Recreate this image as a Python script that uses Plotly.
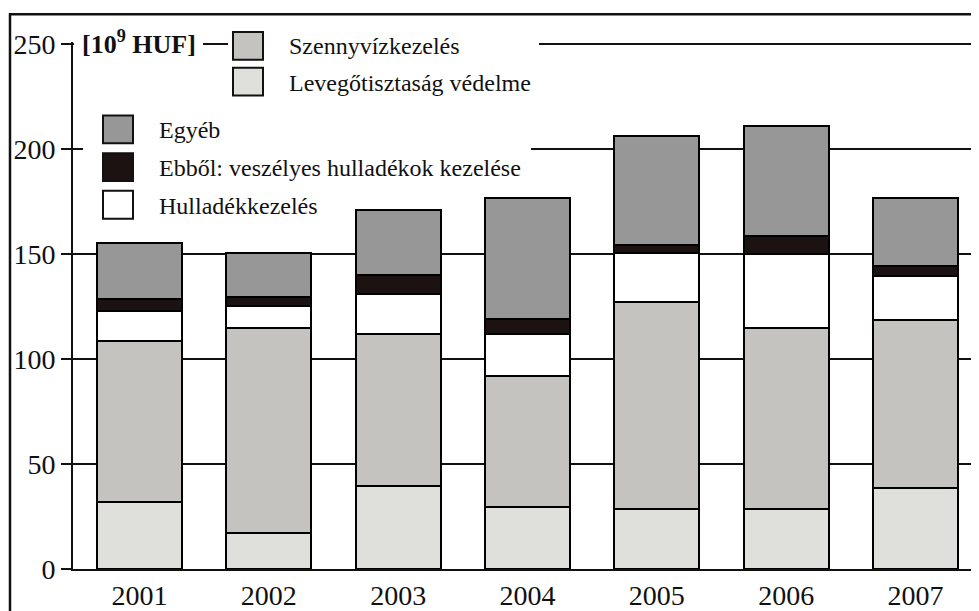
import plotly.graph_objects as go

years = ["2001", "2002", "2003", "2004", "2005", "2006", "2007"]
levego = [32.0, 17.3, 39.7, 29.6, 28.4, 28.4, 38.5]
szennyviz = [76.5, 97.5, 72.0, 62.5, 98.6, 86.3, 80.3]
hulladek = [14.6, 10.7, 19.2, 19.9, 23.3, 35.1, 20.8]
veszelyes = [5.5, 4.2, 9.0, 7.1, 3.8, 8.7, 4.7]
egyeb = [26.9, 20.8, 31.0, 57.6, 52.0, 52.5, 32.4]
y_ticks = [0, 50, 100, 150, 200, 250]

names = ["Levegőtisztaság védelme", "Szennyvízkezelés", "Hulladékkezelés",
         "Ebből: veszélyes hulladékok kezelése", "Egyéb"]
colors = ["#dfdfdc", "#c5c3c0", "#ffffff", "#1c1212", "#979797"]
series = [levego, szennyviz, hulladek, veszelyes, egyeb]

# page body has an 8px margin: figure is sized so it fits the window
OFF = 8
FW, FH = 979 - OFF, 611 - OFF
AX_L, AX_B, AX_T = 73, 573, 42          # reference-pixel positions of plot edges
ML, MT, MB, MR = AX_L - OFF, AX_T - OFF, 611 - AX_B, 0
PW, PH = FW - ML - MR, FH - MT - MB
XR = [-0.514, 6.491]
YR = [0, 251]
FONT = "Liberation Serif, Times New Roman, serif"

def px(x):
    return (x - AX_L) / PW

def py(y):
    return (AX_B - y) / PH

def dx(x):
    return XR[0] + px(x) * (XR[1] - XR[0])

def dy(y):
    return YR[0] + py(y) * (YR[1] - YR[0])

xs = list(range(len(years)))
fig = go.Figure()
for name, col, vals in zip(names, colors, series):
    fig.add_trace(go.Bar(x=xs, y=vals, name=name, width=0.657,
                         marker=dict(color=col, line=dict(color="black", width=2)),
                         showlegend=False))

shapes = []
# white areas hiding gridlines behind legend (between grid and bars)
for (x0, x1, y0, y1) in [(74, 203, 25, 62), (228, 539, 25, 108), (83, 531, 108, 228)]:
    shapes.append(dict(type="rect", xref="x", yref="y", x0=dx(x0), x1=dx(x1),
                       y0=dy(y1), y1=dy(y0), line=dict(width=0), fillcolor="white",
                       layer="between"))
# outer frame
shapes.append(dict(type="rect", xref="paper", yref="paper", x0=px(10), x1=px(1000),
                   y0=py(640), y1=py(14), line=dict(color="#111", width=2.5),
                   fillcolor="rgba(0,0,0,0)", layer="above"))

legend_items = [
    (names[1], colors[1], 233, 32, 46),
    (names[0], colors[0], 233, 68, 83),
    (names[4], colors[4], 103, 116, 131),
    (names[3], colors[3], 103, 154, 169),
    (names[2], colors[2], 103, 192, 207),
]
annotations = []
for name, col, sx, sy, ty in legend_items:
    shapes.append(dict(type="rect", xref="paper", yref="paper", x0=px(sx), x1=px(sx + 30),
                       y0=py(sy + 28), y1=py(sy), fillcolor=col,
                       line=dict(color="#111", width=2), layer="above"))
    annotations.append(dict(x=px(sx + 54), y=py(ty), xref="paper", yref="paper",
                            text=name, showarrow=False, xanchor="left", yanchor="middle",
                            font=dict(family=FONT, size=24, color="#111")))

annotations.append(dict(x=px(80), y=py(42), xref="paper", yref="paper",
                        text="<b>[10<sup>9</sup> HUF]</b>", showarrow=False,
                        xanchor="left", yanchor="middle",
                        font=dict(family=FONT, size=26, color="#111")))

fig.update_layout(
    width=FW, height=FH, barmode="stack",
    margin=dict(l=ML, r=MR, t=MT, b=MB, pad=0),
    paper_bgcolor="white", plot_bgcolor="white",
    font=dict(family=FONT, size=28, color="#111"),
    shapes=shapes, annotations=annotations,
    xaxis=dict(range=XR, tickvals=xs, ticktext=years, showgrid=False,
               zeroline=False, showline=True, linecolor="#111", linewidth=2,
               ticks="", tickfont=dict(size=28, family=FONT), fixedrange=True),
    yaxis=dict(range=YR, tickvals=y_ticks, showgrid=True, gridcolor="#111",
               gridwidth=2, zeroline=False, showline=True, linecolor="#111", linewidth=2,
               ticks="outside", ticklen=10, tickwidth=2, tickcolor="#111",
               tickfont=dict(size=28, family=FONT), fixedrange=True),
)

fig.write_html("out.html")
